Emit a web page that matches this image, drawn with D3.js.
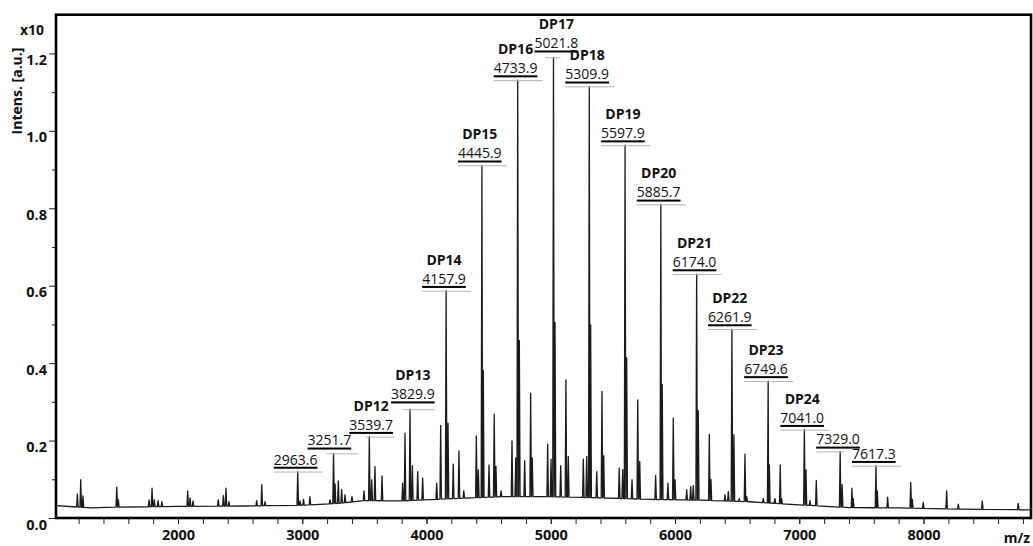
<!DOCTYPE html>
<html>
<head>
<meta charset="utf-8">
<script src="https://cdn.jsdelivr.net/npm/d3@7"></script>
<style>
  body { margin: 0; background: #fff; }
  svg { display: block; font-family: "Open Sans", sans-serif; }
</style>
</head>
<body>
<div id="chart"></div>
<script>
// Peak list (m/z, intensity x10^4 a.u.)
const peakMz = [
  1190, 1217, 1235, 1507, 1520, 1767, 1791, 1809, 1840, 1870,
  2078, 2097, 2121, 2324, 2365, 2386, 2410, 2633, 2674, 2700,
  2963.6, 2982, 3010, 3062, 3223, 3251.7, 3264, 3290, 3317, 3344,
  3400, 3497, 3539.7, 3559, 3585, 3642, 3808, 3827, 3867, 3886,
  3929, 3969, 4082, 4114, 4157.9, 4173, 4215, 4261, 4300, 4401,
  4417, 4445.9, 4457, 4503, 4545, 4559, 4600, 4688, 4718, 4733.9,
  4747, 4790, 4838, 4851, 4975, 5002, 5021.8, 5034, 5080, 5122,
  5141, 5262, 5289, 5309.9, 5321, 5370, 5412, 5426, 5551, 5579,
  5597.9, 5611, 5654, 5700, 5716, 5844, 5885.7, 5897, 5943, 5986,
  6000, 6094, 6126, 6147, 6174, 6187, 6276, 6289, 6402, 6429,
  6458, 6474, 6517, 6563, 6577, 6710, 6749.6, 6759, 6804, 6847,
  6858, 7041, 7054, 7086, 7137, 7329, 7345, 7424, 7434, 7617.3,
  7628, 7711, 7897, 7910, 7998, 8186, 8280, 8473, 8762
];
const peakInt = [
  0.062, 0.099, 0.057, 0.080, 0.047, 0.047, 0.077, 0.047, 0.045, 0.042,
  0.070, 0.052, 0.044, 0.047, 0.058, 0.077, 0.042, 0.045, 0.086, 0.042,
  0.120, 0.044, 0.048, 0.055, 0.047, 0.167, 0.088, 0.096, 0.073, 0.060,
  0.055, 0.070, 0.210, 0.099, 0.133, 0.109, 0.090, 0.219, 0.281, 0.135,
  0.120, 0.103, 0.090, 0.239, 0.587, 0.245, 0.139, 0.173, 0.070, 0.212,
  0.124, 0.911, 0.381, 0.137, 0.268, 0.133, 0.070, 0.199, 0.155, 1.131,
  0.458, 0.148, 0.322, 0.155, 0.191, 0.152, 1.190, 0.505, 0.135, 0.357,
  0.159, 0.152, 0.159, 1.115, 0.499, 0.120, 0.327, 0.161, 0.129, 0.125,
  0.963, 0.414, 0.099, 0.305, 0.146, 0.110, 0.810, 0.345, 0.090, 0.258,
  0.099, 0.073, 0.081, 0.084, 0.630, 0.277, 0.216, 0.100, 0.060, 0.068,
  0.488, 0.215, 0.050, 0.165, 0.055, 0.050, 0.354, 0.137, 0.050, 0.137,
  0.050, 0.228, 0.124, 0.045, 0.097, 0.172, 0.086, 0.077, 0.050, 0.135,
  0.070, 0.054, 0.092, 0.048, 0.040, 0.070, 0.036, 0.044, 0.038
];

// Baseline level under the peaks
const baseMz = [1018, 1300, 1500, 2000, 2500, 3000, 3300, 3500, 3800, 4200, 4600,
  5000, 5400, 5800, 6200, 6600, 7000, 7400, 7800, 8300, 8865];
const baseInt = [0.032, 0.026, 0.028, 0.030, 0.031, 0.033, 0.038, 0.045, 0.044, 0.050, 0.055,
  0.055, 0.052, 0.048, 0.046, 0.042, 0.034, 0.027, 0.026, 0.023, 0.021];

// Annotated peaks
const annMz = [2963.6, 3251.7, 3539.7, 3867, 4157.9, 4445.9, 4733.9, 5021.8, 5309.9,
  5597.9, 5885.7, 6174, 6458, 6749.6, 7041, 7329, 7617.3];
const annText = ["2963.6", "3251.7", "3539.7", "3829.9", "4157.9", "4445.9", "4733.9", "5021.8", "5309.9",
  "5597.9", "5885.7", "6174.0", "6261.9", "6749.6", "7041.0", "7329.0", "7617.3"];
const annDp = ["", "", "DP12", "DP13", "DP14", "DP15", "DP16", "DP17", "DP18",
  "DP19", "DP20", "DP21", "DP22", "DP23", "DP24", "", ""];

const xTicks = [2000, 3000, 4000, 5000, 6000, 7000, 8000];
const xMinor = d3.range(1200, 8801, 200);
const yTicks = [0, 0.2, 0.4, 0.6, 0.8, 1.0, 1.2];
const yMinor = [0.1, 0.3, 0.5, 0.7, 0.9, 1.1];

// label placement tweaks (px, relative to the peak)
const annLayout = {
  "3251.7": { dx: -26, from: -8, dy: -8 },
  "3539.7": { dx: -20, from: -4 },
  "3829.9": { dx: -19, from: -7, dy: -10 },
  "5021.8": { dx: -19, from: -8, to: 7, dy: -9 },
  "7329.0": { to: 4 }
};

function renderChart() {
  const width = 1033;
  const height = 546;
  const frame = { left: 56, right: 1031, top: 14.7, bottom: 518 };

  const svg = d3.select("#chart")
    .append("svg")
    .attr("width", width)
    .attr("height", height);

  svg.append("rect").attr("width", width).attr("height", height).attr("fill", "#fff");

  const x = d3.scaleLinear().domain([1018, 8865]).range([frame.left, frame.right]);
  const y = d3.scaleLinear().domain([0, 1.3]).range([frame.bottom, frame.top]);
  const base = d3.scaleLinear().domain(baseMz).range(baseInt);

  svg.append("clipPath").attr("id", "plot-clip")
    .append("rect")
    .attr("x", frame.left)
    .attr("y", frame.top)
    .attr("width", frame.right - frame.left)
    .attr("height", frame.bottom - frame.top);

  // Build spectrum trace: baseline nodes plus a narrow spike per peak
  const hw = 6;
  let pts = baseMz.map((m, i) => [m, baseInt[i]])
    .filter(p => !peakMz.some(m => Math.abs(m - p[0]) <= hw));
  peakMz.forEach((m, i) => {
    pts.push([m - hw, base(m - hw)], [m, peakInt[i]], [m + hw, base(m + hw)]);
  });
  pts.sort((a, b) => a[0] - b[0]);

  const line = d3.line()
    .x(d => x(d[0]))
    .y(d => y(d[1]));

  svg.append("path")
    .datum(pts)
    .attr("clip-path", "url(#plot-clip)")
    .attr("fill", "none")
    .attr("stroke", "#1a1a1a")
    .attr("stroke-width", 1.3)
    .attr("stroke-linejoin", "round")
    .attr("d", line);

  // Annotations
  const ann = svg.append("g");
  annMz.forEach((m, i) => {
    const px = x(m);
    const py = y(peakInt[peakMz.indexOf(m)]);
    const L = Object.assign({ dx: -24, from: -24, to: 25, dy: -7 }, annLayout[annText[i]] || {});

    ann.append("line")
      .attr("x1", px + L.from)
      .attr("x2", px + L.to)
      .attr("y1", py + 0.5)
      .attr("y2", py + 0.5)
      .attr("stroke", "#b4b4b4")
      .attr("stroke-width", 1);

    const t = ann.append("text")
      .attr("x", px + L.dx)
      .attr("y", py + L.dy)
      .attr("font-size", "14px")
      .attr("fill", "#111")
      .text(annText[i]);
    const w = t.node().getComputedTextLength();

    ann.append("rect")
      .attr("x", px + L.dx)
      .attr("y", py + L.dy + 2.2)
      .attr("width", w)
      .attr("height", 2)
      .attr("fill", "#000");

    if (annDp[i]) {
      ann.append("text")
        .attr("x", px + L.dx + w / 2)
        .attr("y", py + L.dy - 19)
        .attr("text-anchor", "middle")
        .attr("font-size", "14px")
        .attr("font-weight", "bold")
        .attr("fill", "#111")
        .text(annDp[i]);
    }
  });

  // Axes
  const styleAxis = g => {
    g.select(".domain").remove();
    g.selectAll("line").attr("stroke", "#222");
    g.selectAll("text")
      .attr("font-family", "'Open Sans', sans-serif")
      .attr("font-size", "14.5px")
      .attr("font-weight", "bold")
      .attr("fill", "#111");
  };

  svg.append("g")
    .attr("transform", `translate(${frame.left},0)`)
    .call(d3.axisLeft(y).tickValues(yMinor).tickSize(4).tickFormat(""))
    .call(styleAxis);

  svg.append("g")
    .attr("transform", `translate(${frame.left},0)`)
    .call(d3.axisLeft(y).tickValues(yTicks).tickSize(7).tickPadding(2).tickFormat(d3.format(".1f")))
    .call(styleAxis)
    .call(g => g.selectAll("text").attr("dy", 11));

  svg.append("g")
    .attr("transform", `translate(0,${frame.bottom + 1})`)
    .call(d3.axisBottom(x).tickValues(xMinor).tickSize(5).tickFormat(""))
    .call(styleAxis);

  svg.append("g")
    .attr("transform", `translate(0,${frame.bottom + 1})`)
    .call(d3.axisBottom(x).tickValues(xTicks).tickSize(5).tickPadding(6).tickFormat(d3.format("d")))
    .call(styleAxis);

  // Frame
  svg.append("rect")
    .attr("x", frame.left)
    .attr("y", frame.top)
    .attr("width", frame.right - frame.left)
    .attr("height", frame.bottom - frame.top)
    .attr("fill", "none")
    .attr("stroke", "#000")
    .attr("stroke-width", 2.6);

  // Axis titles
  svg.append("text")
    .attr("x", 20)
    .attr("y", 35)
    .attr("font-size", "14px")
    .attr("font-weight", "bold")
    .attr("fill", "#111")
    .text("x10");

  svg.append("text")
    .attr("transform", "translate(22,91) rotate(-90)")
    .attr("text-anchor", "middle")
    .attr("font-size", "14px")
    .attr("font-weight", "bold")
    .attr("fill", "#111")
    .text("Intens. [a.u.]");

  svg.append("text")
    .attr("x", 1030)
    .attr("y", 543)
    .attr("text-anchor", "end")
    .attr("font-size", "14px")
    .attr("font-weight", "bold")
    .attr("fill", "#111")
    .text("m/z");
}

renderChart();
</script>
</body>
</html>
